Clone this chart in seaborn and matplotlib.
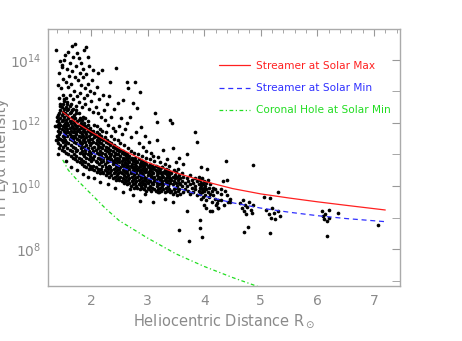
import numpy as np
import pandas as pd
import matplotlib
matplotlib.use("Agg")
import matplotlib.pyplot as plt
import matplotlib.ticker as mticker
import seaborn as sns

# --- model curves (distance in R_sun, log10 intensity) ---
red_x = [1.5, 1.75, 2.0, 2.5, 3.0, 3.5, 4.0, 4.5, 5.0, 5.5, 6.0, 6.5, 7.2]
red_logy = [12.35, 12.0, 11.72, 11.2, 10.75, 10.42, 10.15, 9.92, 9.75, 9.62, 9.5, 9.39, 9.24]
blue_x = [1.5, 1.75, 2.0, 2.5, 3.0, 3.5, 4.0, 4.5, 5.0, 5.5, 6.0, 6.5, 7.2]
blue_logy = [11.67, 11.35, 11.08, 10.62, 10.25, 9.95, 9.68, 9.47, 9.3, 9.17, 9.06, 8.97, 8.87]
green_x = [1.5, 1.6, 1.75, 2.0, 2.25, 2.5, 3.0, 3.5, 4.0, 4.5, 5.0]
green_logy = [10.83, 10.5, 10.2, 9.75, 9.3, 8.9, 8.35, 7.85, 7.45, 7.1, 6.78]

# --- dense band of observations: column positions and log10 intensities ---
band_x = [1.40, 1.42, 1.44, 1.46, 1.48, 1.50, 1.52, 1.54, 1.56, 1.58,
          1.60, 1.62, 1.64, 1.66, 1.68, 1.70, 1.72, 1.74, 1.76, 1.78,
          1.80, 1.82, 1.84, 1.86, 1.88, 1.90, 1.92, 1.94, 1.96, 1.98,
          2.00, 2.02, 2.04, 2.06, 2.08, 2.10, 2.12, 2.14, 2.16, 2.18,
          2.20, 2.22, 2.24, 2.26, 2.28, 2.30, 2.32, 2.34, 2.36, 2.38,
          2.40, 2.42, 2.44, 2.46, 2.48, 2.50, 2.52, 2.54, 2.56, 2.58,
          2.60, 2.62, 2.64, 2.66, 2.68, 2.70, 2.72, 2.74, 2.76, 2.78,
          2.80, 2.82, 2.84, 2.86, 2.88, 2.90, 2.92, 2.94, 2.96, 2.98,
          3.00, 3.02, 3.04, 3.06, 3.08, 3.10, 3.12, 3.14, 3.16, 3.18,
          3.20, 3.22, 3.24, 3.26, 3.28, 3.30, 3.32, 3.34, 3.36, 3.38,
          3.40, 3.42, 3.44, 3.46, 3.48, 3.50, 3.52, 3.54, 3.56, 3.58,
          3.60, 3.63, 3.66, 3.69, 3.72, 3.75, 3.78, 3.81, 3.84, 3.87,
          3.90, 3.92, 3.94, 3.96, 3.98, 4.00, 4.02, 4.04, 4.06, 4.08,
          4.10, 4.13, 4.16, 4.19, 4.22, 4.25, 4.30, 4.36, 4.40, 4.45]
band_logy = [
    [11.45, 11.9, 12.2, 11.6, 12.05],
    [11.35, 11.75, 12.1, 11.55, 11.95, 12.25],
    [11.2, 11.5, 11.85, 12.3, 12.0, 11.65],
    [11.3, 11.7, 12.4, 11.95, 12.15, 11.5],
    [11.15, 11.45, 11.8, 12.05, 12.5, 12.25],
    [11.25, 11.6, 11.9, 12.35, 12.1, 11.4, 12.6],
    [11.1, 11.55, 11.75, 12.2, 12.45, 11.95],
    [11.3, 11.85, 12.0, 12.3, 11.65, 11.45],
    [11.05, 11.4, 11.7, 12.1, 12.5, 11.9],
    [11.2, 11.6, 11.8, 12.25, 12.0, 12.4],
    [11.0, 11.35, 11.7, 11.95, 12.15, 12.45],
    [11.15, 11.5, 11.85, 12.3, 11.65, 12.05],
    [10.95, 11.3, 11.75, 12.0, 12.35, 11.55],
    [11.1, 11.45, 11.6, 11.9, 12.2, 12.4],
    [10.9, 11.25, 11.7, 12.1, 11.5, 11.85],
    [11.0, 11.4, 11.8, 12.25, 12.0, 11.6],
    [10.85, 11.2, 11.55, 11.95, 12.15, 11.7],
    [10.95, 11.35, 11.65, 11.85, 12.3, 11.1],
    [10.8, 11.15, 11.5, 11.75, 12.05, 11.9],
    [10.9, 11.3, 11.6, 12.1, 11.45, 11.8],
    [10.75, 11.05, 11.4, 11.7, 11.95, 12.15],
    [10.85, 11.2, 11.55, 11.85, 12.0, 11.3],
    [10.7, 11.1, 11.35, 11.65, 11.9, 12.1],
    [10.8, 11.0, 11.45, 11.75, 11.6, 11.95],
    [10.65, 10.95, 11.25, 11.5, 11.8, 12.0],
    [10.75, 11.15, 11.4, 11.7, 11.9, 11.05],
    [10.6, 10.9, 11.3, 11.55, 11.85, 11.65],
    [10.7, 11.0, 11.2, 11.45, 11.75, 11.95],
    [10.55, 10.85, 11.1, 11.4, 11.6, 11.8],
    [10.65, 10.95, 11.3, 11.5, 11.7, 11.85],
    [10.6, 10.8, 11.05, 11.35, 11.65, 11.75],
    [10.55, 10.9, 11.2, 11.5, 11.7],
    [10.65, 10.85, 11.1, 11.4, 11.75],
    [10.5, 10.95, 11.25, 11.55, 11.65],
    [10.6, 10.8, 11.15, 11.35, 11.6],
    [10.45, 10.75, 11.05, 11.45, 11.7],
    [10.55, 10.9, 11.2, 11.3, 11.55],
    [10.5, 10.7, 11.0, 11.4, 11.65],
    [10.4, 10.85, 11.1, 11.25, 11.5],
    [10.55, 10.75, 10.95, 11.35, 11.6],
    [10.45, 10.65, 11.05, 11.2, 11.5],
    [10.4, 10.8, 10.9, 11.3, 11.45],
    [10.5, 10.7, 11.0, 11.15, 11.55],
    [10.35, 10.6, 10.95, 11.25, 11.4],
    [10.45, 10.75, 10.85, 11.1, 11.45],
    [10.4, 10.55, 10.9, 11.2, 11.35],
    [10.3, 10.65, 10.8, 11.05, 11.4],
    [10.45, 10.6, 10.95, 11.15, 11.3],
    [10.35, 10.5, 10.85, 11.0, 11.35],
    [10.25, 10.7, 10.8, 11.1, 11.25],
    [10.4, 10.55, 10.75, 10.95, 11.3],
    [10.3, 10.45, 10.85, 11.05, 11.2],
    [10.2, 10.6, 10.7, 11.0, 11.25],
    [10.35, 10.5, 10.8, 10.9, 11.15],
    [10.25, 10.4, 10.65, 11.0, 11.2],
    [10.2, 10.55, 10.75, 10.85, 11.1],
    [10.3, 10.45, 10.6, 10.95, 11.15],
    [10.15, 10.4, 10.7, 10.8, 11.05],
    [10.25, 10.5, 10.65, 10.9, 11.1],
    [10.1, 10.35, 10.55, 10.85, 11.0],
    [10.2, 10.45, 10.7, 10.75, 11.05],
    [10.15, 10.3, 10.6, 10.85, 10.95],
    [10.05, 10.4, 10.5, 10.7, 11.0],
    [10.2, 10.35, 10.65, 10.8, 10.9],
    [10.1, 10.25, 10.55, 10.75, 10.95],
    [10.0, 10.4, 10.45, 10.65, 10.85],
    [10.15, 10.3, 10.6, 10.7, 10.9],
    [10.05, 10.2, 10.5, 10.8, 10.85],
    [9.95, 10.35, 10.45, 10.6, 10.8],
    [10.1, 10.25, 10.55, 10.7, 10.9],
    [10.0, 10.15, 10.4, 10.65, 10.8],
    [9.95, 10.3, 10.5, 10.55, 10.75],
    [10.05, 10.2, 10.35, 10.6, 10.85],
    [9.9, 10.1, 10.45, 10.5, 10.7],
    [10.0, 10.25, 10.3, 10.65, 10.75],
    [9.95, 10.15, 10.4, 10.55, 10.8],
    [10.05, 10.1, 10.35, 10.5, 10.7],
    [9.9, 10.2, 10.3, 10.6, 10.65],
    [10.0, 10.05, 10.45, 10.5, 10.75],
    [9.85, 10.15, 10.25, 10.55, 10.7],
    [9.95, 10.1, 10.35, 10.45, 10.65],
    [9.9, 10.2, 10.4, 10.6],
    [10.0, 10.15, 10.5, 10.7],
    [9.85, 10.3, 10.35, 10.55],
    [9.95, 10.1, 10.45, 10.65],
    [10.05, 10.25, 10.4, 10.6],
    [9.9, 10.15, 10.3, 10.55],
    [9.85, 10.2, 10.5, 10.65],
    [10.0, 10.1, 10.35, 10.45],
    [9.9, 10.25, 10.4, 10.6],
    [9.8, 10.05, 10.3, 10.5],
    [9.95, 10.2, 10.45, 10.55],
    [9.85, 10.1, 10.25, 10.4],
    [10.0, 10.15, 10.35, 10.6],
    [9.9, 10.05, 10.3, 10.45],
    [9.8, 10.2, 10.4, 10.5],
    [9.95, 10.1, 10.25, 10.55],
    [9.85, 10.15, 10.35, 10.45],
    [10.0, 10.05, 10.3, 10.5],
    [9.9, 10.2, 10.4, 10.35],
    [9.8, 10.1, 10.25, 10.45],
    [9.85, 10.2, 10.4],
    [9.75, 10.05, 10.3],
    [9.9, 10.15, 10.5],
    [9.8, 10.25, 10.35],
    [9.95, 10.1, 10.45],
    [9.7, 10.0, 10.3],
    [9.85, 10.2, 10.55],
    [9.9, 10.1, 10.35],
    [9.75, 10.05, 10.25],
    [10.0, 10.15, 10.4],
    [9.8, 10.3],
    [9.9, 10.1],
    [10.0, 10.25],
    [9.85, 10.15],
    [9.75, 10.05, 10.35],
    [9.95, 10.2],
    [9.8, 10.1],
    [9.9, 10.0, 10.25],
    [9.7, 10.15],
    [9.85, 10.05, 10.3],
    [9.75, 9.95, 10.2],
    [9.6, 10.1, 10.0],
    [9.9, 9.8, 10.25],
    [9.65, 10.05],
    [9.85, 9.95, 10.15, 9.4],
    [9.7, 10.0],
    [9.55, 9.9, 10.1, 9.3],
    [9.8, 10.2],
    [9.65, 9.95],
    [9.75, 10.05, 9.2],
    [9.5, 9.85],
    [9.7, 9.95],
    [9.6, 9.9],
    [9.8, 9.45],
    [9.55, 9.3],
    [9.75, 9.9, 9.55],
    [9.85],
    [9.7],
    [9.6, 9.5],
]

# --- sparse points above the band (x, log10 I) ---
upper_pts = [
    (1.39, 14.32), (1.41, 13.2), (1.43, 12.8), (1.44, 13.6), (1.45, 13.95), (1.46, 12.6),
    (1.47, 13.1), (1.48, 13.79), (1.49, 13.85), (1.50, 12.9), (1.51, 13.4), (1.52, 12.7),
    (1.53, 14.0), (1.54, 14.16), (1.55, 13.3), (1.56, 12.8), (1.57, 13.7), (1.58, 12.65),
    (1.59, 13.15), (1.60, 14.25), (1.61, 13.5), (1.62, 12.9), (1.63, 13.9), (1.64, 12.6),
    (1.65, 13.25), (1.66, 14.45), (1.67, 13.65), (1.68, 12.75), (1.69, 14.1), (1.70, 13.0),
    (1.71, 14.5), (1.72, 13.45), (1.73, 12.55), (1.74, 13.8), (1.75, 14.21), (1.76, 12.85),
    (1.77, 13.35), (1.78, 14.05), (1.79, 12.65), (1.80, 13.6), (1.81, 12.95), (1.82, 13.9),
    (1.83, 13.2), (1.84, 12.5), (1.85, 13.7), (1.86, 13.47), (1.87, 12.8), (1.88, 14.3),
    (1.89, 13.1), (1.90, 12.6), (1.91, 13.55), (1.92, 14.4), (1.93, 12.9), (1.94, 13.25),
    (1.95, 14.1), (1.96, 12.45), (1.97, 13.8), (1.98, 13.0), (2.00, 12.7), (2.01, 13.37),
    (2.03, 12.35), (2.04, 13.68), (2.06, 12.95), (2.08, 12.5), (2.10, 13.15), (2.12, 12.3),
    (2.13, 13.58), (2.15, 12.75), (2.17, 12.2), (2.19, 13.68), (2.21, 12.9), (2.23, 12.4),
    (2.25, 12.1), (2.28, 12.6), (2.30, 11.95), (2.32, 12.85), (2.34, 13.31), (2.36, 12.2),
    (2.38, 11.85), (2.41, 12.45), (2.43, 11.75), (2.45, 13.74), (2.48, 12.62), (2.50, 11.9),
    (2.53, 12.15), (2.55, 11.65), (2.57, 12.73), (2.60, 11.8), (2.63, 13.31), (2.64, 12.0),
    (2.66, 13.1), (2.69, 12.2), (2.71, 11.55), (2.75, 12.62), (2.78, 13.31), (2.80, 11.7),
    (2.81, 12.47), (2.84, 11.35), (2.87, 12.99), (2.88, 11.88), (2.92, 11.25), (2.95, 11.6),
    (2.98, 11.1), (3.02, 11.4), (3.06, 11.05), (3.10, 10.95), (3.13, 12.31), (3.16, 12.04),
    (3.17, 11.46), (3.19, 10.91), (3.25, 10.59), (3.28, 11.15), (3.34, 10.85), (3.40, 12.1),
    (3.43, 11.99), (3.45, 11.2), (3.50, 10.75), (3.55, 10.9), (3.62, 10.7), (3.70, 11.0),
    (3.84, 11.72), (3.87, 11.41), (3.95, 10.6), (4.05, 10.55), (4.38, 10.8), (4.40, 10.2),
    (4.87, 10.67), (4.34, 10.15),
    (1.45, 12.55), (1.52, 12.75), (1.57, 12.6), (1.63, 12.55), (1.69, 12.45), (1.74, 12.4),
    (1.79, 12.3), (1.85, 12.2), (1.90, 12.15), (1.95, 12.05), (2.05, 11.95), (2.10, 11.9),
    (2.16, 11.8), (2.20, 11.75), (2.27, 11.7), (2.35, 11.6), (2.40, 11.5), (2.47, 11.45),
    (2.52, 11.35), (2.58, 11.3), (2.65, 11.2), (2.70, 11.1), (2.76, 11.05), (2.83, 11.0),
    (2.90, 10.95), (2.97, 10.9), (3.05, 10.85), (3.12, 10.8), (3.22, 10.75), (3.30, 10.7),
    (3.38, 10.65),
]

# --- sparse points below the band ---
lower_pts = [
    (1.38, 11.45), (1.36, 11.9), (1.42, 11.0), (1.55, 10.8), (1.65, 10.6), (1.76, 10.5),
    (1.86, 10.38), (1.95, 10.3), (2.05, 10.25), (2.16, 10.14), (2.30, 10.05), (2.42, 9.95),
    (2.57, 9.8), (2.69, 9.9), (2.75, 9.7), (2.87, 9.53), (2.95, 9.75), (3.10, 9.48),
    (3.19, 9.8), (3.30, 9.6), (3.45, 9.5), (3.55, 8.6), (3.69, 9.22), (3.73, 8.25),
    (4.13, 9.22), (4.20, 9.4), (3.93, 8.93), (3.93, 8.66), (3.96, 8.39), (4.25, 9.3),
    (4.35, 9.4), (4.42, 9.5),
]

# --- outer points beyond 4.5 R_sun ---
far_pts = [
    (4.63, 9.45), (4.66, 9.3), (4.68, 9.55), (4.70, 9.2), (4.72, 9.4), (4.74, 9.1),
    (4.76, 9.35), (4.78, 8.69), (4.80, 9.5), (4.82, 9.25), (4.85, 9.15), (4.87, 9.4),
    (4.70, 8.55), (5.06, 9.64), (5.16, 9.61), (5.31, 9.8), (5.10, 9.25), (5.14, 9.1),
    (5.18, 9.0), (5.20, 9.3), (5.23, 9.15), (5.26, 8.95), (5.30, 9.2), (5.34, 9.05),
    (5.16, 8.51), (6.08, 9.2), (6.10, 9.05), (6.12, 8.95), (6.14, 9.1), (6.17, 8.9),
    (6.20, 9.0), (6.21, 9.25), (6.17, 8.42), (6.37, 9.13), (7.07, 8.76),
]

# build the observation table
rows = []
for x, ys in zip(band_x, band_logy):
    for y in ys:
        rows.append((x, y))
rows += upper_pts + lower_pts + far_pts
obs = pd.DataFrame(rows, columns=["dist", "logI"])
obs["intensity"] = 10.0 ** obs["logI"]

grey = "#8a8a8a"
sns.set_style("white")
plt.rcParams["font.family"] = ["DejaVu Sans"]

fig = plt.figure(figsize=(4.62, 3.41), dpi=100)
ax = fig.add_axes([0.1039, 0.1613, 0.7619, 0.7537])

sns.scatterplot(data=obs, x="dist", y="intensity", color="black", s=7,
                linewidth=0, marker="o", ax=ax, zorder=2)

ax.plot(red_x, 10.0 ** np.array(red_logy), color="#ff2020", lw=0.9,
        label="Streamer at Solar Max", zorder=3)
ax.plot(blue_x, 10.0 ** np.array(blue_logy), color="#3030ff", lw=0.9,
        linestyle=(0, (4, 3)), label="Streamer at Solar Min", zorder=3)
ax.plot(green_x, 10.0 ** np.array(green_logy), color="#22dd22", lw=0.9,
        linestyle=(0, (3, 2, 1, 2)), label="Coronal Hole at Solar Min", zorder=3)

ax.set_yscale("log")
ax.set_xlim(1.24, 7.46)
ax.set_ylim(10 ** 6.83, 10 ** 14.98)

ax.xaxis.set_major_locator(mticker.FixedLocator([2, 3, 4, 5, 6, 7]))
ax.xaxis.set_minor_locator(mticker.MultipleLocator(0.2))
ax.yaxis.set_major_locator(mticker.FixedLocator([1e8, 1e10, 1e12, 1e14]))
ax.yaxis.set_minor_locator(mticker.FixedLocator([1e7, 1e9, 1e11, 1e13]))
ax.yaxis.set_major_formatter(mticker.LogFormatterMathtext())
ax.yaxis.set_minor_formatter(mticker.NullFormatter())

ax.tick_params(which="both", direction="in", top=True, right=True,
               color="#999999", labelcolor=grey, labelsize=10)
ax.tick_params(axis="x", which="major", length=5, pad=6)
ax.tick_params(axis="x", which="minor", length=3)
ax.tick_params(axis="y", which="both", length=6, pad=5)

for sp in ax.spines.values():
    sp.set_color("#aaaaaa")
    sp.set_linewidth(1.0)

ax.set_xlabel(r"Heliocentric Distance R$_\odot$", fontsize=10.5, color=grey,
              labelpad=3)
ax.set_ylabel("H I Lyα Intensity", fontsize=10.5, color=grey)
ax.yaxis.set_label_coords(-0.112, 0.5)

leg = ax.legend(loc="upper left", bbox_to_anchor=(0.487, 0.875), frameon=False,
                fontsize=7.6, handlelength=2.9, handletextpad=0.6,
                labelspacing=1.15, borderpad=0, borderaxespad=0)
for txt, col in zip(leg.get_texts(), ["#ff2020", "#3030ff", "#22dd22"]):
    txt.set_color(col)

fig.savefig("out.png", dpi=100)
